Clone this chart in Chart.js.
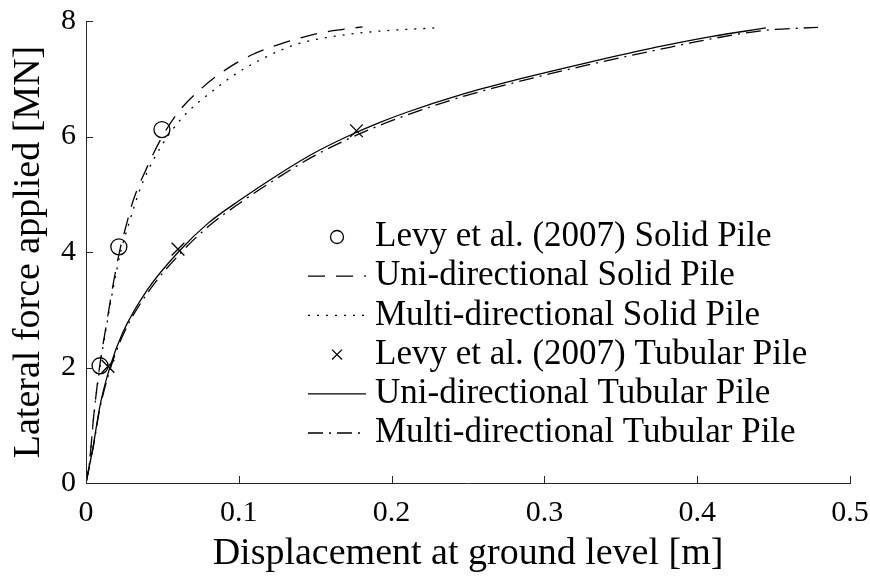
<!DOCTYPE html>
<html>
<head>
<meta charset="utf-8">
<script src="https://cdn.jsdelivr.net/npm/chart.js@4.4.1/dist/chart.umd.min.js"></script>
<style>
  html, body { margin: 0; padding: 0; background: #fff; }
  #wrap { width: 870px; height: 579px; }
</style>
</head>
<body>
<div id="wrap"><canvas id="pile-chart"></canvas></div>
<script>
// measured points (Levy et al. 2007)
const levySolidX = [0.0092, 0.0215, 0.0497];
const levySolidY = [2.03, 4.09, 6.12];
const levyTubeX = [0.0144, 0.0602, 0.177];
const levyTubeY = [2.02, 4.05, 6.10];

// solid pile, uni-directional
const uniSolidX = [0, 0.0022, 0.0052, 0.0092, 0.0135, 0.0179, 0.0223, 0.0262, 0.031, 0.040, 0.0497, 0.060, 0.0746, 0.091, 0.109, 0.127, 0.153, 0.181];
const uniSolidY = [0, 0.34, 1.20, 2.07, 2.77, 3.46, 4.05, 4.45, 4.90, 5.47, 5.99, 6.41, 6.81, 7.15, 7.42, 7.60, 7.79, 7.90];

// solid pile, multi-directional
const multiSolidX = [0, 0.0022, 0.0052, 0.0092, 0.0135, 0.018, 0.0225, 0.027, 0.036, 0.044, 0.055, 0.066, 0.081, 0.099, 0.118, 0.138, 0.164, 0.190, 0.228];
const multiSolidY = [0, 0.34, 1.18, 2.03, 2.73, 3.40, 3.98, 4.40, 5.13, 5.59, 6.06, 6.41, 6.75, 7.10, 7.38, 7.60, 7.74, 7.82, 7.88];

// tubular pile, uni-directional
const uniTubeX = [0, 0.0046, 0.009, 0.0157, 0.024, 0.040, 0.0615, 0.080, 0.1008, 0.127, 0.149, 0.171, 0.192, 0.21, 0.245, 0.28, 0.327, 0.374, 0.409, 0.445];
const uniTubeY = [0, 0.62, 1.32, 2.01, 2.60, 3.34, 4.03, 4.50, 4.90, 5.36, 5.71, 6.00, 6.24, 6.42, 6.72, 6.97, 7.27, 7.55, 7.73, 7.88];

// tubular pile, multi-directional
const multiTubeX = [0, 0.0046, 0.009, 0.0157, 0.024, 0.040, 0.0615, 0.080, 0.1008, 0.127, 0.149, 0.171, 0.192, 0.21, 0.245, 0.28, 0.327, 0.374, 0.409, 0.445, 0.479];
const multiTubeY = [0, 0.60, 1.28, 1.96, 2.55, 3.28, 3.97, 4.44, 4.85, 5.31, 5.66, 5.95, 6.19, 6.37, 6.68, 6.93, 7.23, 7.50, 7.69, 7.84, 7.89];

const seriesLabels = [
  'Levy et al. (2007) Solid Pile',
  'Uni-directional Solid Pile',
  'Multi-directional Solid Pile',
  'Levy et al. (2007) Tubular Pile',
  'Uni-directional Tubular Pile',
  'Multi-directional Tubular Pile'
];

const xTickValues = [0, 0.1, 0.2, 0.3, 0.4, 0.5];
const xTickLabels = ['0', '0.1', '0.2', '0.3', '0.4', '0.5'];
const yTickValues = [0, 2, 4, 6, 8];
const yTickLabels = ['0', '2', '4', '6', '8'];

const FONT = '"Liberation Serif", "Times New Roman", serif';
const AXIS_COLOR = '#262626';

function pts(xs, ys) {
  return xs.map((x, i) => ({x: x, y: ys[i]}));
}

function lineSet(label, xs, ys, dash) {
  return {
    label: label,
    data: pts(xs, ys),
    showLine: true,
    borderColor: '#000',
    borderWidth: 1.3,
    borderDash: dash,
    pointRadius: 0,
    pointHoverRadius: 0,
    fill: false,
    cubicInterpolationMode: 'monotone'
  };
}

function markerSet(label, xs, ys, style, r, legendR) {
  return {
    label: label,
    data: pts(xs, ys),
    showLine: false,
    borderColor: '#000',
    backgroundColor: 'rgba(0,0,0,0)',
    borderWidth: 1.3,
    pointStyle: style,
    pointRadius: r,
    legendRadius: legendR
  };
}

// legend drawn inside the plot area, no frame
const insideLegend = {
  id: 'insideLegend',
  afterDraw(chart) {
    const ctx = chart.ctx;
    const top = 237, gap = 39.2;
    const x0 = 308, x1 = 366, mx = 337, tx = 375;
    ctx.save();
    ctx.font = '35px ' + FONT;
    ctx.textBaseline = 'middle';
    chart.data.datasets.forEach((ds, i) => {
      const y = top + i * gap;
      ctx.strokeStyle = ds.borderColor;
      ctx.lineWidth = ds.borderWidth;
      if (ds.showLine) {
        ctx.beginPath();
        ctx.setLineDash(ds.borderDash || []);
        ctx.moveTo(x0, y);
        ctx.lineTo(x1, y);
        ctx.stroke();
        ctx.setLineDash([]);
      } else {
        ctx.fillStyle = 'rgba(0,0,0,0)';
        Chart.helpers.drawPoint(ctx, {pointStyle: ds.pointStyle, radius: ds.legendRadius, borderWidth: 1, rotation: 0}, mx, y);
      }
      ctx.fillStyle = '#000';
      ctx.fillText(ds.label, tx, y);
    });
    ctx.restore();
  }
};

// tick marks pointing into the plot
const innerTicks = {
  id: 'innerTicks',
  afterDraw(chart) {
    const ctx = chart.ctx;
    const {x, y} = chart.scales;
    const a = chart.chartArea;
    const len = 7;
    ctx.save();
    ctx.strokeStyle = AXIS_COLOR;
    ctx.lineWidth = 1;
    ctx.beginPath();
    xTickValues.forEach(v => {
      const px = Math.round(x.getPixelForValue(v)) + 0.5;
      ctx.moveTo(px, a.bottom);
      ctx.lineTo(px, a.bottom - len);
    });
    yTickValues.forEach(v => {
      const py = Math.round(y.getPixelForValue(v)) + 0.5;
      ctx.moveTo(a.left, py);
      ctx.lineTo(a.left + len, py);
    });
    ctx.stroke();
    ctx.restore();
  }
};

const ctx = document.getElementById('pile-chart').getContext('2d');
const pileChart = new Chart(ctx, {
  type: 'scatter',
  data: {
    datasets: [
      markerSet(seriesLabels[0], levySolidX, levySolidY, 'circle', 8, 6.5),
      lineSet(seriesLabels[1], uniSolidX, uniSolidY, [17, 11]),
      lineSet(seriesLabels[2], multiSolidX, multiSolidY, [2, 7]),
      markerSet(seriesLabels[3], levyTubeX, levyTubeY, 'crossRot', 9, 7),
      lineSet(seriesLabels[4], uniTubeX, uniTubeY, []),
      lineSet(seriesLabels[5], multiTubeX, multiTubeY, [15, 6, 2, 6])
    ]
  },
  options: {
    responsive: true,
    maintainAspectRatio: false,
    animation: false,
    layout: { padding: { top: 21, right: 20, left: 0, bottom: 0 } },
    plugins: {
      legend: { display: false },
      tooltip: { enabled: false }
    },
    scales: {
      x: {
        type: 'linear',
        min: 0,
        max: 0.5,
        afterBuildTicks: s => { s.ticks = xTickValues.map(v => ({value: v})); },
        afterFit: s => { s.height = 96; s.paddingLeft = 0; s.paddingRight = 0; },
        ticks: {
          color: '#000',
          font: { family: FONT, size: 30 },
          padding: 12,
          maxRotation: 0,
          callback: v => xTickLabels[xTickValues.indexOf(v)]
        },
        grid: { display: true, drawOnChartArea: false, drawTicks: false },
        border: { display: true, color: AXIS_COLOR, width: 1 },
        title: {
          display: true,
          text: 'Displacement at ground level [m]',
          color: '#000',
          font: { family: FONT, size: 38, lineHeight: 1.2 },
          padding: { top: 0, bottom: 2 }
        }
      },
      y: {
        type: 'linear',
        min: 0,
        max: 8,
        afterBuildTicks: s => { s.ticks = yTickValues.map(v => ({value: v})); },
        afterFit: s => { s.width = 86; s.paddingTop = 0; s.paddingBottom = 0; },
        ticks: {
          color: '#000',
          font: { family: FONT, size: 30 },
          padding: 10,
          callback: v => yTickLabels[yTickValues.indexOf(v)]
        },
        grid: { display: true, drawOnChartArea: false, drawTicks: false },
        border: { display: true, color: AXIS_COLOR, width: 1 },
        title: {
          display: true,
          text: 'Lateral force applied [MN]',
          color: '#000',
          font: { family: FONT, size: 38, lineHeight: 1.2 },
          padding: { top: 6, bottom: 0 }
        }
      }
    }
  },
  plugins: [innerTicks, insideLegend]
});
</script>
</body>
</html>
